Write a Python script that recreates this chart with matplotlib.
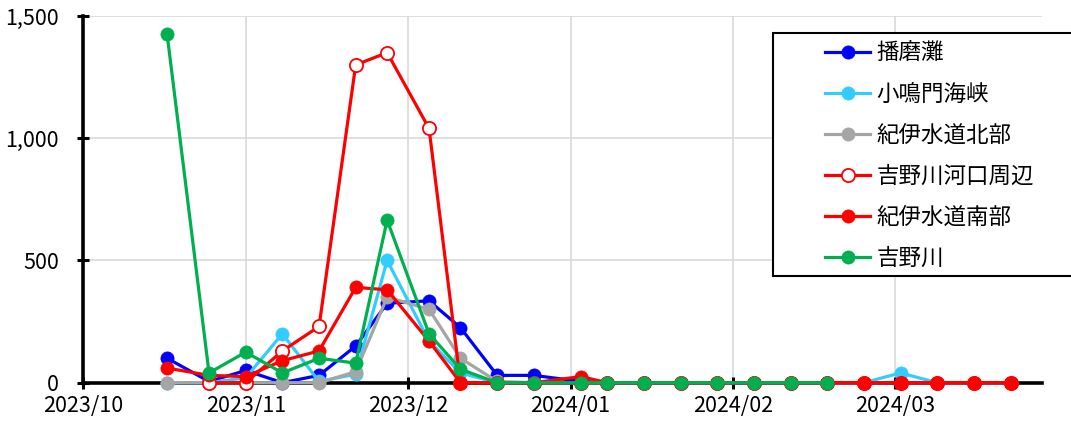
import matplotlib
matplotlib.use("Agg")
import matplotlib.pyplot as plt
import matplotlib.dates as mdates
from matplotlib.patches import Rectangle
from matplotlib.ticker import FuncFormatter, FixedLocator
import numpy as np
import datetime as dt

plt.rcParams['font.family'] = ['Noto Sans CJK JP', 'DejaVu Sans']

dates = ["2023-10-17", "2023-10-25", "2023-11-01", "2023-11-08", "2023-11-15",
         "2023-11-22", "2023-11-28", "2023-12-06", "2023-12-12", "2023-12-19",
         "2023-12-26", "2024-01-04", "2024-01-09", "2024-01-16", "2024-01-23",
         "2024-01-30", "2024-02-06", "2024-02-13", "2024-02-20", "2024-02-27",
         "2024-03-05", "2024-03-12", "2024-03-19", "2024-03-26"]

nan = np.nan
harima = [100, 5, 50, 0, 30, 150, 325, 335, 225, 30, 30, 5, 0, 0, 0, 0, 0, 0, 0, 0, 0, 0, 0, 0]
konaruto = [0, 0, 20, 200, 5, 35, 500, 170, 40, 0, 0, 0, 0, 0, 0, 0, 0, 0, 0, 0, 40, 0, 0, 0]
kii_north = [0, 0, 0, 0, 0, 45, 350, 300, 100, 5, 0, 0, 0, 0, 0, 0, 0, 0, 0, 0, 0, 0, 0, 0]
yoshino_mouth = [nan, 0, 0, 130, 230, 1300, 1350, 1040, 0, 0, 0, 0, 0, 0, 0, 0, 0, 0, 0, 0, 0, 0, 0, 0]
kii_south = [60, 30, 25, 90, 130, 390, 380, 170, 0, 0, 0, 25, 0, 0, 0, 0, 0, 0, 0, 0, 0, 0, 0, 0]
yoshino = [1425, 40, 125, 40, 100, 80, 665, 200, 55, 0, 0, 0, 0, 0, 0, 0, 0, 0, 0, nan, nan, nan, nan, nan]

series_names = ["播磨灘", "小鳴門海峡", "紀伊水道北部", "吉野川河口周辺", "紀伊水道南部", "吉野川"]
series_values = [harima, konaruto, kii_north, yoshino_mouth, kii_south, yoshino]
series_colors = ["#0000FF", "#33CCFF", "#A5A5A5", "#FF0000", "#FF0000", "#00B050"]
series_open = [False, False, False, True, False, False]

tick_dates = ["2023-10-01", "2023-11-01", "2023-12-02", "2024-01-02", "2024-02-02", "2024-03-04"]
y_ticks = [0, 500, 1000, 1500]

W, H = 1071, 423
fig = plt.figure(figsize=(W / 100, H / 100), dpi=100)
ax = fig.add_axes([83.3 / W, (H - 382.7) / H, (1042 - 83.3) / W, (382.7 - 16) / H])

x = [dt.datetime.strptime(d, "%Y-%m-%d") for d in dates]
handles = []
for name, vals, col, op in zip(series_names, series_values, series_colors, series_open):
    h, = ax.plot(x, vals, color=col, lw=2.3, marker='o', ms=9.5,
                 markerfacecolor='white' if op else col,
                 markeredgecolor=col, markeredgewidth=1.3 if op else 0.5,
                 label=name, clip_on=False, zorder=3)
    handles.append(h)

ax.set_xlim(dt.datetime(2023, 10, 1), dt.datetime(2024, 4, 1))
ax.set_ylim(0, 1500)

xt = [mdates.date2num(dt.datetime.strptime(d, "%Y-%m-%d")) for d in tick_dates]
ax.xaxis.set_major_locator(FixedLocator(xt))
ax.xaxis.set_major_formatter(FuncFormatter(lambda v, p: mdates.num2date(v).strftime("%Y/%m")))
ax.yaxis.set_major_locator(FixedLocator(y_ticks))
ax.yaxis.set_major_formatter(FuncFormatter(lambda v, p: f"{int(v):,}"))

ax.grid(True, color='#d9d9d9', lw=1.2)
ax.set_axisbelow(True)
for s in ['top', 'right']:
    ax.spines[s].set_visible(False)
for s in ['left', 'bottom']:
    ax.spines[s].set_linewidth(2.6)
    ax.spines[s].set_color('black')
ax.tick_params(axis='both', direction='inout', length=9, width=2.2, labelsize=15.5, colors='black')
ax.tick_params(axis='y', pad=13)
ax.tick_params(axis='x', pad=4)

# legend box
rect = Rectangle((773 / W, (H - 276) / H), (1075 - 773) / W, (276 - 33) / H,
                 transform=fig.transFigure, facecolor='white', edgecolor='black',
                 lw=1.5, zorder=5)
fig.add_artist(rect)
leg = fig.legend(handles=handles, loc='upper left', bbox_to_anchor=(825 / W, (H - 42) / H),
                 frameon=False, fontsize=16.2, handlelength=2.0, handletextpad=0.3,
                 labelspacing=0.8, borderpad=0, borderaxespad=0)
leg.set_zorder(6)

fig.savefig("out.png", dpi=100)
